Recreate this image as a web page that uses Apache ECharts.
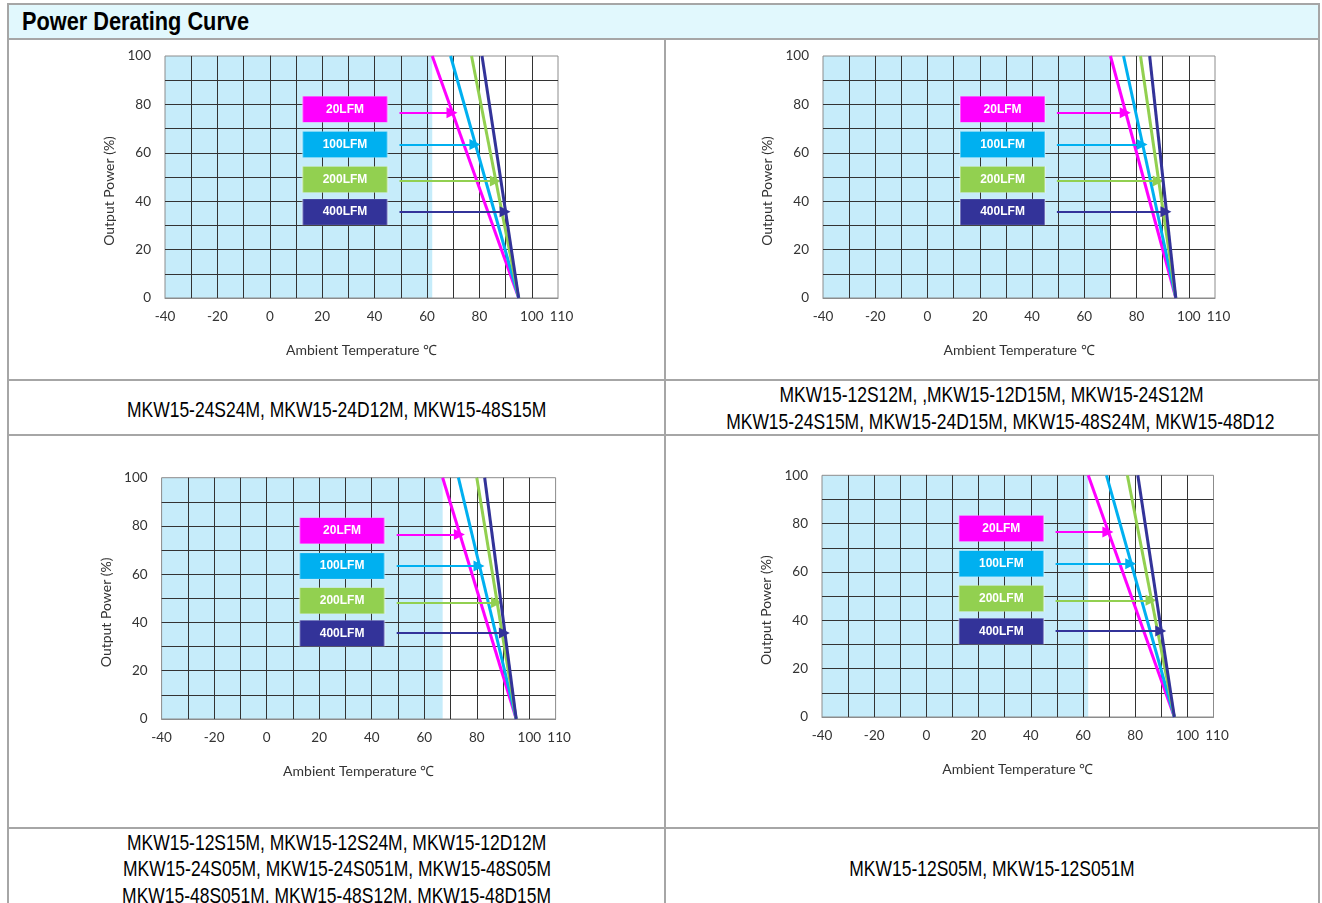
<!DOCTYPE html>
<html>
<head>
<meta charset="utf-8">
<script src="https://cdn.jsdelivr.net/npm/echarts/dist/echarts.min.js"></script>
<style>
html,body{margin:0;padding:0;background:#fff;overflow:hidden;width:1322px;height:903px;}
.hl{position:absolute;height:2px;background:#a6a6a6;}
.vl{position:absolute;width:2px;background:#a6a6a6;}
#titlebar{position:absolute;left:8px;top:5px;width:1311px;height:33px;background:#e1f8fd;}
#title{position:absolute;left:22px;top:5px;height:33px;line-height:33px;font-family:"Liberation Sans",Arial,sans-serif;font-weight:bold;font-size:26.5px;color:#000;white-space:nowrap;transform:scaleX(0.82);transform-origin:0 50%;}
.chart{position:absolute;}
.cap{position:absolute;text-align:center;font-family:"Liberation Sans",Arial,sans-serif;font-size:21.3px;line-height:26.6px;color:#000;white-space:nowrap;}
.cap span{display:inline-block;transform:scaleX(0.82);transform-origin:50% 50%;}
</style>
</head>
<body>
<div id="titlebar"></div>
<div id="title"></div>

<div class="chart" id="c1" style="left:9px;top:40px;width:655px;height:339px;"></div>
<div class="chart" id="c2" style="left:666px;top:40px;width:652px;height:339px;"></div>
<div class="chart" id="c3" style="left:9px;top:436px;width:655px;height:391px;"></div>
<div class="chart" id="c4" style="left:666px;top:436px;width:652px;height:391px;"></div>

<div class="cap" id="cap1" style="left:9px;width:655px;top:397px;"></div>
<div class="cap" id="cap2" style="left:666px;width:652px;top:382px;"></div>
<div class="cap" id="cap3" style="left:9px;width:655px;top:829.5px;"></div>
<div class="cap" id="cap4" style="left:666px;width:652px;top:856px;"></div>

<div class="hl" style="left:7px;top:3px;width:1313px;"></div>
<div class="hl" style="left:7px;top:38px;width:1313px;"></div>
<div class="hl" style="left:7px;top:379px;width:1313px;"></div>
<div class="hl" style="left:7px;top:434px;width:1313px;"></div>
<div class="hl" style="left:7px;top:827px;width:1313px;"></div>
<div class="vl" style="left:7px;top:3px;height:920px;"></div>
<div class="vl" style="left:664px;top:38px;height:880px;"></div>
<div class="vl" style="left:1318px;top:3px;height:920px;"></div>

<script>
// ---------------- data ----------------
const TITLE = 'Power Derating Curve';
const AIRFLOW = ['20LFM', '100LFM', '200LFM', '400LFM'];
const X_TICK_LABELS = [-40, -20, 0, 20, 40, 60, 80, 100, 110];
const Y_TICK_LABELS = [0, 20, 40, 60, 80, 100];
const X_NAME = 'Ambient Temperature ℃';
const Y_NAME = 'Output Power (%)';

// temperature (°C) where derating starts (100 % load) for each airflow
const START_1 = [62, 69, 77, 81];
const START_2 = [70, 75, 81.5, 85];
const START_3 = [67, 73, 80, 83];
const START_4 = [62, 69, 77, 81];
// temperature (°C) where output reaches 0 %
const END_TEMP = [95, 95, 95, 95];
// output power level (%) pointed at by each airflow arrow
const ARROW_LEVEL = [76.5, 63.4, 48.3, 35.6];
const LABEL_LEVEL = [78, 63.4, 49, 35.5];

const CAPTION_1 = ['MKW15-24S24M, MKW15-24D12M, MKW15-48S15M'];
const CAPTION_2 = ['MKW15-12S12M, ,MKW15-12D15M, MKW15-24S12M',
                   'MKW15-24S15M, MKW15-24D15M, MKW15-48S24M, MKW15-48D12'];
const CAPTION_3 = ['MKW15-12S15M, MKW15-12S24M, MKW15-12D12M',
                   'MKW15-24S05M, MKW15-24S051M, MKW15-48S05M',
                   'MKW15-48S051M, MKW15-48S12M, MKW15-48D15M'];
const CAPTION_4 = ['MKW15-12S05M, MKW15-12S051M'];

// ---------------- styles / layout ----------------
const COLORS = ['#ff00ff', '#00b0f0', '#92d050', '#333399'];
const SAFE_FILL = '#c6ecfa';
const ARROW_FROM_X = 49.5;   // arrow tail, in axis units
const LABEL_X = 28.7;        // label box centre, in axis units
const FONT = 'Lato, "Liberation Sans", sans-serif';

const LAYOUT = [
  {id: 'c1', start: START_1, grid: {left: 156, top: 16, width: 393, height: 242}},
  {id: 'c2', start: START_2, grid: {left: 157, top: 16, width: 392, height: 242}},
  {id: 'c3', start: START_3, grid: {left: 152.6, top: 41.7, width: 394, height: 241.3}},
  {id: 'c4', start: START_4, grid: {left: 156, top: 39.3, width: 391.5, height: 241.7}}
];

function esc(t) { return t.replace(/&/g, '&amp;').replace(/</g, '&lt;'); }
document.getElementById('title').textContent = TITLE;
[['cap1', CAPTION_1], ['cap2', CAPTION_2], ['cap3', CAPTION_3], ['cap4', CAPTION_4]].forEach(([id, lines]) => {
  document.getElementById(id).innerHTML = lines.map(t => '<span>' + esc(t) + '</span>').join('<br>');
});

function buildOption(start) {
  const series = [];
  // safe operating area shading
  series.push({
    type: 'line', z: -1, silent: true, symbol: 'none',
    data: [[-40, 100], [start[0], 100]],
    lineStyle: {width: 0},
    areaStyle: {color: SAFE_FILL, opacity: 1}
  });
  AIRFLOW.forEach((name, i) => {
    const s = start[i], e = END_TEMP[i];
    const lvl = ARROW_LEVEL[i];
    const hit = s + (e - s) * (100 - lvl) / 100;
    series.push({
      name: name, type: 'line', symbol: 'none', silent: true,
      data: [[s, 100], [e, 0]],
      lineStyle: {color: COLORS[i], width: 3},
      z: 2 + i,
      markLine: {
        silent: true, animation: false,
        symbol: ['none', 'triangle'], symbolSize: 11,
        label: {show: false},
        lineStyle: {color: COLORS[i], width: 2, type: 'solid'},
        data: [[{coord: [ARROW_FROM_X, lvl]}, {coord: [hit - 0.22, lvl]}]]
      },
      markPoint: {
        silent: true, animation: false,
        symbol: 'rect', symbolSize: [85, 26],
        itemStyle: {color: COLORS[i], borderColor: 'rgba(255,255,255,0.35)', borderWidth: 1},
        label: {show: true, position: 'inside', formatter: '{b}', color: '#fff',
                fontWeight: 'bold', fontSize: 12, fontFamily: '"Liberation Sans", Arial, sans-serif'},
        data: [{name: name, coord: [LABEL_X, LABEL_LEVEL[i]]}]
      }
    });
  });
  return {
    animation: false,
    grid: null,
    xAxis: {
      type: 'value', min: -40, max: 110, interval: 10,
      name: X_NAME, nameLocation: 'middle', nameGap: 45,
      nameTextStyle: {fontFamily: FONT, fontSize: 14, color: '#333'},
      axisLine: {show: true, lineStyle: {color: '#8c8c8c', width: 1}},
      axisTick: {show: false},
      axisLabel: {margin: 12, fontFamily: FONT, fontSize: 13.5, color: '#333',
                  rich: {p: {fontFamily: FONT, fontSize: 13.5, color: '#333', padding: [0, 0, 0, 7]}},
                  formatter: v => v === 110 ? '{p|110}' : (X_TICK_LABELS.includes(v) ? String(v) : '')},
      splitLine: {show: true, showMinLine: false, showMaxLine: false, lineStyle: {color: '#333', width: 1}}
    },
    yAxis: {
      type: 'value', min: 0, max: 100, interval: 10,
      name: Y_NAME, nameLocation: 'middle', nameGap: 48,
      nameTextStyle: {fontFamily: FONT, fontSize: 14, color: '#333', padding: [0, 28, 0, 0]},
      axisLine: {show: true, lineStyle: {color: '#333', width: 1}},
      axisTick: {show: false},
      axisLabel: {margin: 14, fontFamily: FONT, fontSize: 13.5, color: '#333',
                  formatter: v => Y_TICK_LABELS.includes(v) ? String(v) : ''},
      splitLine: {show: true, showMinLine: false, showMaxLine: false, lineStyle: {color: '#333', width: 1}}
    },
    series: series
  };
}

LAYOUT.forEach(cfg => {
  const chart = echarts.init(document.getElementById(cfg.id), null, {renderer: 'canvas'});
  const opt = buildOption(cfg.start);
  opt.grid = Object.assign({show: true, borderColor: '#8c8c8c', borderWidth: 1,
                            backgroundColor: 'transparent', containLabel: false,
                            outerBoundsMode: 'none'}, cfg.grid);
  chart.setOption(opt);
});
</script>
</body>
</html>
